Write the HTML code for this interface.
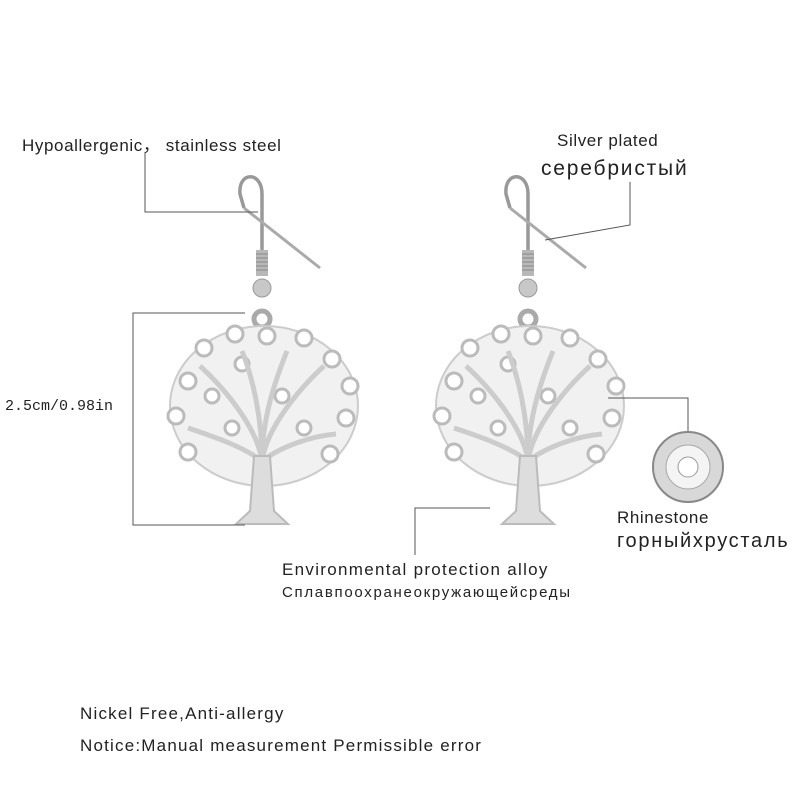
<!DOCTYPE html>
<html><head><meta charset="utf-8"><style>
body{margin:0;background:#fff;width:800px;height:800px;overflow:hidden;position:relative;font-family:"Liberation Sans","DejaVu Sans",sans-serif;color:#222}
.t{position:absolute;white-space:nowrap}
</style></head><body>
<svg width="800" height="800" style="position:absolute;left:0;top:0">
<defs>
<g id="ear">
 <path d="M0,-5 L0,-62 C0,-85 -24,-85 -22,-62 L-18,-48" fill="none" stroke="#999" stroke-width="3.5"/>
 <path d="M-18,-48 L58,12" stroke="#aaa" stroke-width="3"/>
 <rect x="-6" y="-6" width="12" height="26" fill="#b8b8b8"/>
 <path d="M-6,-2h12M-6,2h12M-6,6h12M-6,10h12M-6,14h12" stroke="#888" stroke-width="1"/>
 <circle cx="0" cy="32" r="9" fill="#c8c8c8" stroke="#999"/>
 <circle cx="0" cy="63" r="8" fill="none" stroke="#aaa" stroke-width="5"/>
 <ellipse cx="2" cy="150" rx="94" ry="80" fill="#f1f1f1" stroke="#ccc" stroke-width="2"/>
 <g fill="#fff" stroke="#bbb" stroke-width="3">
  <circle cx="-74" cy="125" r="8"/><circle cx="-58" cy="92" r="8"/><circle cx="-27" cy="78" r="8"/><circle cx="5" cy="80" r="8"/><circle cx="42" cy="82" r="8"/><circle cx="70" cy="103" r="8"/><circle cx="88" cy="130" r="8"/><circle cx="84" cy="162" r="8"/><circle cx="68" cy="198" r="8"/><circle cx="-86" cy="160" r="8"/><circle cx="-74" cy="196" r="8"/><circle cx="-30" cy="172" r="7"/><circle cx="-20" cy="108" r="7"/><circle cx="20" cy="140" r="7"/><circle cx="42" cy="172" r="7"/><circle cx="-50" cy="140" r="7"/>
 </g>
 <path d="M0,205 C-5,170 -40,130 -62,110 M0,205 C5,170 40,130 62,110 M0,205 C0,160 -10,120 -20,95 M0,205 C0,160 15,120 25,95 M0,205 C-20,190 -50,180 -74,172 M0,205 C20,190 50,180 74,178" fill="none" stroke="#ccc" stroke-width="5"/>
 <path d="M-8,200 L-12,255 L-26,268 L26,268 L12,255 L8,200Z" fill="#ddd" stroke="#bbb" stroke-width="2"/>
</g>
</defs>
<use href="#ear" x="262" y="256"/>
<use href="#ear" x="528" y="256"/>
<g fill="none" stroke="#555" stroke-width="1">
 <path d="M145,152 V212 H258"/>
 <path d="M630,182 V225 L545,240"/>
 <path d="M245,313 H133 V525 H245"/>
 <path d="M608,398 H688 V432"/>
 <path d="M490,508 H415 V555"/>
</g>
<circle cx="688" cy="467" r="35" fill="#d8d8d8" stroke="#888" stroke-width="2"/>
<circle cx="688" cy="467" r="22" fill="#f4f4f4" stroke="#aaa"/>
<circle cx="688" cy="467" r="10" fill="#fff" stroke="#999"/>
</svg>
<div class="t" style="left:22px;top:131px;font-size:17px;letter-spacing:0.6px">Hypoallergenic， stainless steel</div>
<div class="t" style="left:557px;top:131px;font-size:17px;letter-spacing:0.6px">Silver plated</div>
<div class="t" style="left:541px;top:157px;font-size:21px;letter-spacing:1.8px">серебристый</div>
<div class="t" style="left:5px;top:398px;font-size:15px;font-family:'Liberation Mono',monospace">2.5cm/0.98in</div>
<div class="t" style="left:617px;top:508px;font-size:17px;letter-spacing:0.6px">Rhinestone</div>
<div class="t" style="left:617px;top:530px;font-size:20px;letter-spacing:1.7px">горныйхрусталь</div>
<div class="t" style="left:282px;top:560px;font-size:17px;letter-spacing:1.3px">Environmental protection alloy</div>
<div class="t" style="left:282px;top:584px;font-size:15px;letter-spacing:1.7px">Сплавпоохранеокружающейсреды</div>
<div class="t" style="left:80px;top:704px;font-size:17px;letter-spacing:1.2px">Nickel Free,Anti-allergy</div>
<div class="t" style="left:80px;top:736px;font-size:17px;letter-spacing:1.2px">Notice:Manual measurement Permissible error</div>
</body></html>
